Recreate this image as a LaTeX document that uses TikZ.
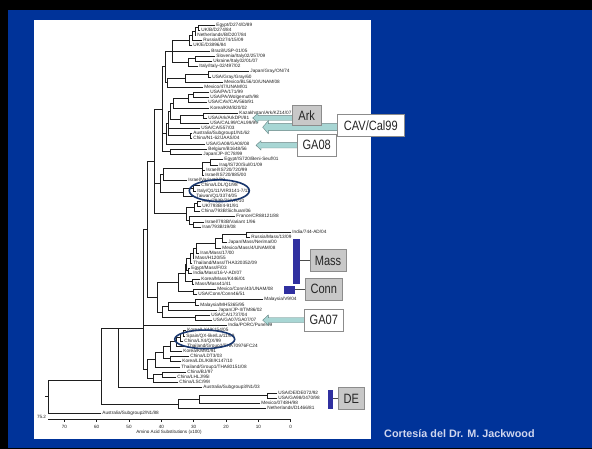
\documentclass[tikz,border=0pt]{standalone}
\usepackage{fontspec}
\setmainfont{Liberation Sans}
\newfontfamily\boxfont[FakeStretch=0.82]{Liberation Sans}
\usetikzlibrary{shapes.geometric}
\definecolor{slideblue}{RGB}{0,51,153}
\definecolor{treeline}{RGB}{30,30,30}
\definecolor{labelgray}{RGB}{30,30,30}
\definecolor{ovalblue}{RGB}{25,55,110}
\definecolor{barblue}{RGB}{48,48,160}
\definecolor{boxgray}{RGB}{200,200,200}
\definecolor{arrowfill}{RGB}{168,214,212}
\definecolor{arrowline}{RGB}{100,130,130}
\definecolor{credit}{RGB}{208,214,238}
\begin{document}
\begin{tikzpicture}[x=1pt,y=-1pt,
  tree/.style={draw=treeline,line width=0.75pt,line cap=rect},
  leaf/.style={anchor=west,inner xsep=1.2pt,inner ysep=0.2pt,font=\fontsize{4.7}{5}\selectfont,text=labelgray},
  axlab/.style={font=\fontsize{4.6}{5}\selectfont,text=labelgray,inner sep=0pt},
  tagbox/.style={draw=black!45,line width=0.6pt,font=\boxfont\fontsize{13.5}{14}\selectfont,inner sep=0pt,text=black!85},
  graybox/.style={tagbox,fill=boxgray},
  whitebox/.style={tagbox,fill=white},
  blockarr/.style={fill=arrowfill,draw=arrowline,line width=0.4pt},
  oval/.style={ellipse,draw=ovalblue,line width=1.6pt,inner sep=0pt},
  cladebar/.style={fill=barblue},
  barlink/.style={draw=black!70,line width=0.8pt}]
\fill[black] (0,0) rectangle (592,449);
\fill[slideblue] (8,10) rectangle (592,448);
\fill[white] (34.3,20) rectangle (371,438.7);
\useasboundingbox (0,0) rectangle (592,449);

% ---------- leaves ----------
\node[leaf] (L1) at (215,25) {Egypt/D274/D/89};
\node[leaf] (L2) at (200,30) {UK/B/D274/84};
\node[leaf] (L3) at (196,35) {Netherlands/B/D207/84};
\node[leaf] (L4) at (202,40) {Russia/D274/15/09};
\node[leaf] (L5) at (192,45) {UK/E/D3896/84};
\node[leaf] (L6) at (210,51) {Brazil/USP-01/05};
\node[leaf] (L7) at (215,56) {Slovenia/Italy02/257/09};
\node[leaf] (L8) at (212,61) {Ukraine/Italy02/01/07};
\node[leaf] (L9) at (198,66) {Italy/Italy-02/497/02};
\node[leaf] (L10) at (249,71) {Japan/Gray/ON/74};
\node[leaf] (L11) at (211,77) {USA/Gray/Gray/60};
\node[leaf] (L12) at (223,82) {Mexico/BL56/10/UNAM/08};
\node[leaf] (L13) at (203,87) {Mexico/47/UNAM/01};
\node[leaf] (L14) at (209,92) {USA/PA/171/99};
\node[leaf] (L15) at (209,97) {USA/PA/Wolgemuth/98};
\node[leaf] (L16) at (207,102) {USA/CAV/CAV56b/91};
\node[leaf] (L17) at (209,108) {Korea/KM/820/02};
\node[leaf] (L18) at (238,113) {Kazakhstan/Ark/KZ14/07};
\node[leaf] (L19) at (207,118) {USA/Ark/ArkDPI/81};
\node[leaf] (L20) at (209,123) {USA/CAL99/CAL99/99};
\node[leaf] (L21) at (200,128) {USA/CA/557/03};
\node[leaf] (L22) at (192,133) {Australia/Subgroup1/N1/62};
\node[leaf] (L23) at (192,138) {China/N1-62/JAAS/04};
\node[leaf] (L24) at (205,144) {USA/GA08/GA08/08};
\node[leaf] (L25) at (207,149) {Belgium/B1648/56};
\node[leaf] (L26) at (202,154) {Japan/JP-I/C78/99};
\node[leaf] (L27) at (223,159) {Egypt/IS720/Beni-Seuf/01};
\node[leaf] (L28) at (218,165) {Iraq/IS720/Sul/01/09};
\node[leaf] (L29) at (205,170) {Israel/IS720/720/99};
\node[leaf] (L30) at (204,175) {Israel/IS720/885/00};
\node[leaf] (L31) at (187,180) {Israel/Variant2/98};
\node[leaf] (L32) at (200,185) {China/LDL/Q1/98};
\node[leaf] (L33) at (196,191) {Italy/Q1/11/VIR3141-7/11};
\node[leaf] (L34) at (195,196) {Taiwan/Q1/3374/05};
\node[leaf] (L35) at (201,201) {Italy/793B/72/VR/10};
\node[leaf] (L36) at (201,206) {UK/793B/4-91/91};
\node[leaf] (L37) at (200,211) {China/793B/Sichuan/06};
\node[leaf] (L38) at (235,216) {France/CR88121/88};
\node[leaf] (L39) at (204,222) {Israel/793B/Variant 1/96};
\node[leaf] (L40) at (201,227) {Iran/793B/19/08};
\node[leaf] (L41) at (291,232) {India/744-AD/04};
\node[leaf] (L42) at (250,237) {Russia/Mass/13/09};
\node[leaf] (L43) at (227,242) {Japan/Mass/Nerima/00};
\node[leaf] (L44) at (221,248) {Mexico/Mass/4/UNAM/08};
\node[leaf] (L45) at (199,253) {Iran/Mass/17/00};
\node[leaf] (L46) at (194,258) {Mass/H120/55};
\node[leaf] (L47) at (192,263) {Thailand/Mass/THA320352/09};
\node[leaf] (L48) at (190,268) {Egypt/Mass/F/03};
\node[leaf] (L49) at (192,273) {India/Mass/16-V-AD/07};
\node[leaf] (L50) at (200,279) {Korea/Mass/K446/01};
\node[leaf] (L51) at (194,284) {Mass/Mass41/41};
\node[leaf] (L52) at (216,289) {Mexico/Conn/43/UNAM/08};
\node[leaf] (L53) at (197,294) {USA/Conn/Conn46/51};
\node[leaf] (L54) at (263,299) {Malaysia/V9/04};
\node[leaf] (L55) at (199,305) {Malaysia/MH5365/95};
\node[leaf] (L56) at (217,310) {Japan/JP-II/TM86/02};
\node[leaf] (L57) at (210,315) {USA/CA/1737/04};
\node[leaf] (L58) at (212,320) {USA/GA07/GA07/07};
\node[leaf] (L59) at (227,325) {India/PORC/Pune/99};
\node[leaf] (L60) at (186,330) {Korea/LX4/K154/05};
\node[leaf] (L61) at (185,336) {Spain/QX-like/La/11/09};
\node[leaf] (L62) at (183,341) {China/LX4/QX/99};
\node[leaf] (L63) at (186,346) {Thailand/Group2/THA70976FC24};
\node[leaf] (L64) at (182,351) {Korea/KM91/91};
\node[leaf] (L65) at (189,356) {China/LDT3/03};
\node[leaf] (L66) at (181,361) {Korea/LDL/KBI/K147/10};
\node[leaf] (L67) at (180,367) {Thailand/Group1/THA80151/08};
\node[leaf] (L68) at (186,372) {China/BJ/97};
\node[leaf] (L69) at (176,377) {China/LHLJ/95I};
\node[leaf] (L70) at (178,382) {China/LSC/99I};
\node[leaf] (L71) at (202,387) {Australia/Subgroup3/N1/03};
\node[leaf] (L72) at (277,393) {USA/DE/DE072/92};
\node[leaf] (L73) at (277,398) {USA/GA98/0470/98};
\node[leaf] (L74) at (260,403) {Mexico/0748H/98};
\node[leaf] (L75) at (266,408) {Netherlands/D1466/81};
\node[leaf] (L76) at (101,413) {Australia/Subgroup2/N1/88};

% ---------- internal nodes ----------
\coordinate (a1) at (198,27.5);
\coordinate (a2) at (195,31.5);
\coordinate (a3) at (192.5,35.5);
\coordinate (a4) at (189.5,40);
\coordinate (b1) at (195,58.5);
\coordinate (b2) at (188,62);
\coordinate (a5) at (172,51);
\coordinate (c1) at (208,74);
\coordinate (c2) at (185,78);
\coordinate (c3) at (167,82.5);
\coordinate (nA) at (165.5,66.5);
\coordinate (d1) at (193,94.5);
\coordinate (d2) at (188,98.5);
\coordinate (d3) at (173,103);
\coordinate (e1) at (203,115.5);
\coordinate (e2) at (180,119);
\coordinate (nB1) at (170,111);
\coordinate (f1) at (190,135.5);
\coordinate (nB2) at (168,123);
\coordinate (nB3) at (166,133.5);
\coordinate (g1) at (170,151.5);
\coordinate (nAB) at (162.5,109);
\coordinate (h1) at (210,162);
\coordinate (h2) at (202,168.5);
\coordinate (h3) at (163,174);
\coordinate (i1) at (193,188);
\coordinate (i2) at (183,192);
\coordinate (h4) at (160,183);
\coordinate (j1) at (197,203.5);
\coordinate (j2) at (194,207);
\coordinate (j3) at (193,224.5);
\coordinate (j4) at (189,220);
\coordinate (j5) at (186,213.5);
\coordinate (nC) at (154,161);
\coordinate (k1) at (246,234.5);
\coordinate (k2) at (222,238);
\coordinate (k3) at (215,243);
\coordinate (l1) at (196,248);
\coordinate (l2) at (193,253);
\coordinate (l3) at (190,258);
\coordinate (l4) at (188,270.5);
\coordinate (l5) at (186,264);
\coordinate (l6) at (192,281.5);
\coordinate (l7) at (185,273);
\coordinate (m1) at (193,291.5);
\coordinate (l8) at (178,282);
\coordinate (n1) at (195,302);
\coordinate (n2) at (168,306);
\coordinate (n3) at (195,317.5);
\coordinate (n4) at (162,312);
\coordinate (nD) at (157,297);
\coordinate (nU) at (147,229);
\coordinate (q1) at (183,333);
\coordinate (q2) at (180,337);
\coordinate (q3) at (176,341.5);
\coordinate (q4) at (170,346);
\coordinate (q5) at (170,358.5);
\coordinate (q6) at (163,352);
\coordinate (q7) at (155,359.5);
\coordinate (q8) at (162,374.5);
\coordinate (q9) at (153,378);
\coordinate (q10) at (147,369);
\coordinate (N3) at (143,328);
\coordinate (N2) at (118,328);
\coordinate (dea) at (267,395.5);
\coordinate (deb) at (199,399);
\coordinate (dec) at (178,404);
\coordinate (N1) at (101,380);
\coordinate (R) at (48,396.5);
\coordinate (rootstub) at (45,396.5);

% ---------- branches ----------
\draw[tree] (a1) |- (L1.west) (a1) |- (L2.west);
\draw[tree] (a2) |- (a1) (a2) |- (L3.west);
\draw[tree] (a3) |- (a2) (a3) |- (L4.west);
\draw[tree] (a4) |- (a3) (a4) |- (L5.west);
\draw[tree] (b1) |- (L7.west) (b1) |- (L8.west);
\draw[tree] (b2) |- (b1) (b2) |- (L9.west);
\draw[tree] (a5) |- (a4) (a5) |- (L6.west) (a5) |- (b2);
\draw[tree] (c1) |- (L10.west) (c1) |- (L11.west);
\draw[tree] (c2) |- (c1) (c2) |- (L12.west);
\draw[tree] (c3) |- (c2) (c3) |- (L13.west);
\draw[tree] (nA) |- (a5) (nA) |- (c3);
\draw[tree] (d1) |- (L14.west) (d1) |- (L15.west);
\draw[tree] (d2) |- (d1) (d2) |- (L16.west);
\draw[tree] (d3) |- (d2) (d3) |- (L17.west);
\draw[tree] (e1) |- (L18.west) (e1) |- (L19.west);
\draw[tree] (e2) |- (e1) (e2) |- (L20.west);
\draw[tree] (nB1) |- (d3) (nB1) |- (e2);
\draw[tree] (f1) |- (L22.west) (f1) |- (L23.west);
\draw[tree] (nB2) |- (nB1) (nB2) |- (L21.west) (nB2) |- (f1);
\draw[tree] (nB3) |- (nB2) (nB3) |- (L24.west);
\draw[tree] (g1) |- (L25.west) (g1) |- (L26.west);
\draw[tree] (nAB) |- (nA) (nAB) |- (nB3) (nAB) |- (g1);
\draw[tree] (h1) |- (L27.west) (h1) |- (L28.west);
\draw[tree] (h2) |- (h1) (h2) |- (L29.west) (h2) |- (L30.west);
\draw[tree] (h3) |- (h2) (h3) |- (L31.west);
\draw[tree] (i1) |- (L32.west) (i1) |- (L33.west);
\draw[tree] (i2) |- (i1) (i2) |- (L34.west);
\draw[tree] (h4) |- (h3) (h4) |- (i2);
\draw[tree] (j1) |- (L35.west) (j1) |- (L36.west);
\draw[tree] (j2) |- (j1) (j2) |- (L37.west);
\draw[tree] (j3) |- (L39.west) (j3) |- (L40.west);
\draw[tree] (j4) |- (L38.west) (j4) |- (j3);
\draw[tree] (j5) |- (j2) (j5) |- (j4);
\draw[tree] (nC) |- (nAB) (nC) |- (h4) (nC) |- (j5);
\draw[tree] (k1) |- (L41.west) (k1) |- (L42.west);
\draw[tree] (k2) |- (k1) (k2) |- (L43.west);
\draw[tree] (k3) |- (k2) (k3) |- (L44.west);
\draw[tree] (l1) |- (k3) (l1) |- (L45.west);
\draw[tree] (l2) |- (l1) (l2) |- (L46.west);
\draw[tree] (l3) |- (l2) (l3) |- (L47.west);
\draw[tree] (l4) |- (L48.west) (l4) |- (L49.west);
\draw[tree] (l5) |- (l3) (l5) |- (l4);
\draw[tree] (l6) |- (L50.west) (l6) |- (L51.west);
\draw[tree] (l7) |- (l5) (l7) |- (l6);
\draw[tree] (m1) |- (L52.west) (m1) |- (L53.west);
\draw[tree] (l8) |- (l7) (l8) |- (m1);
\draw[tree] (n1) |- (L54.west) (n1) |- (L55.west);
\draw[tree] (n2) |- (n1) (n2) |- (L56.west);
\draw[tree] (n3) |- (L57.west) (n3) |- (L58.west);
\draw[tree] (n4) |- (n2) (n4) |- (n3);
\draw[tree] (nD) |- (l8) (nD) |- (n4);
\draw[tree] (nU) |- (nC) (nU) |- (nD);
\draw[tree] (q1) |- (L60.west) (q1) |- (L61.west);
\draw[tree] (q2) |- (q1) (q2) |- (L62.west);
\draw[tree] (q3) |- (q2) (q3) |- (L63.west);
\draw[tree] (q4) |- (q3) (q4) |- (L64.west);
\draw[tree] (q5) |- (L65.west) (q5) |- (L66.west);
\draw[tree] (q6) |- (q4) (q6) |- (q5);
\draw[tree] (q7) |- (q6) (q7) |- (L67.west);
\draw[tree] (q8) |- (L68.west) (q8) |- (L69.west);
\draw[tree] (q9) |- (q8) (q9) |- (L70.west);
\draw[tree] (q10) |- (q7) (q10) |- (q9);
\draw[tree] (N3) |- (nU) (N3) |- (L59.west) (N3) |- (q10);
\draw[tree] (N2) |- (N3) (N2) |- (L71.west);
\draw[tree] (dea) |- (L72.west) (dea) |- (L73.west);
\draw[tree] (deb) |- (dea) (deb) |- (L74.west);
\draw[tree] (dec) |- (deb) (dec) |- (L75.west);
\draw[tree] (N1) |- (N2) (N1) |- (dec);
\draw[tree] (R) |- (N1) (R) |- (L76.west);
\draw[tree] (rootstub) -- (R);

% ---------- scale axis ----------
\coordinate (ax0) at (48,419.3);
\coordinate (ax1) at (290.7,419.3);
\draw[tree] (ax0) -- (ax1);
\foreach \v in {0,10,...,70} {
  \draw[tree] ({290.7-3.234*\v},419.3) -- ++(0,2);
  \node[axlab] (tick\v) at ({290.7-3.234*\v},426.7) {\v};
}
\node[axlab] (scaleend) at (41.5,416.7) {75.2};
\node[axlab] (axtitle) at (169,432.5) {Amino Acid Substitutions (x100)};

% ---------- ovals ----------
\node[oval,minimum width=60pt,minimum height=21.7pt] (q1oval) at (219.3,190.7) {};
\node[oval,minimum width=60pt,minimum height=18.5pt] (qxoval) at (204.7,339.3) {};

% ---------- arrows ----------
\filldraw[blockarr] (292.3,115.7) -- (258,115.7) -- (258,113.3) -- (252.7,118) -- (258,122.7) -- (258,120.3) -- (292.3,120.3) -- cycle;
\filldraw[blockarr] (337.3,123.7) -- (268.3,123.7) -- (268.3,120.7) -- (262.7,127.2) -- (268.3,133.7) -- (268.3,130.7) -- (337.3,130.7) -- cycle;
\filldraw[blockarr] (297.3,142.7) -- (261,142.7) -- (261,140.7) -- (256,145.3) -- (261,150) -- (261,148) -- (297.3,148) -- cycle;
\filldraw[blockarr] (304.3,317.7) -- (268.3,317.7) -- (268.3,315) -- (262.7,320.2) -- (268.3,325.4) -- (268.3,322.7) -- (304.3,322.7) -- cycle;

% ---------- clade bars ----------
\fill[cladebar] (292.7,238.7) rectangle (300,284);
\fill[cladebar] (284,286) rectangle (295,294.3);
\fill[cladebar] (327.7,390) rectangle (333.3,409.3);

% ---------- tag boxes ----------
\node[graybox,minimum width=28.7pt,minimum height=19.7pt] (ark) at (306.7,115.2) {Ark};
\node[whitebox,minimum width=67pt,minimum height=21.7pt] (cav) at (370.8,125.2) {CAV/Cal99};
\node[whitebox,minimum width=38.7pt,minimum height=21.7pt] (ga08) at (316.7,145.2) {GA08};
\node[graybox,minimum width=36pt,minimum height=22.4pt] (mass) at (328,260.5) {Mass};
\node[graybox,minimum width=37.7pt,minimum height=21.7pt] (conn) at (323.8,289.2) {Conn};
\node[whitebox,minimum width=39pt,minimum height=21.7pt] (ga07) at (323.8,320.2) {GA07};
\node[graybox,minimum width=25.7pt,minimum height=21.6pt] (de) at (351.2,398.5) {DE};
\coordinate (massbar) at (300,260.5);
\coordinate (connbar) at (295,289.2);
\coordinate (debar) at (333.3,398.5);
\draw[barlink] (massbar) -- (mass.west);
\draw[barlink] (connbar) -- (conn.west);
\draw[barlink] (debar) -- (de.west);

% ---------- credit ----------
\node[font=\bfseries\fontsize{10.8}{12}\selectfont,text=credit,anchor=west,inner sep=0pt] (creditline) at (384,433.3) {Cortesía del Dr. M. Jackwood};
\end{tikzpicture}
\end{document}
